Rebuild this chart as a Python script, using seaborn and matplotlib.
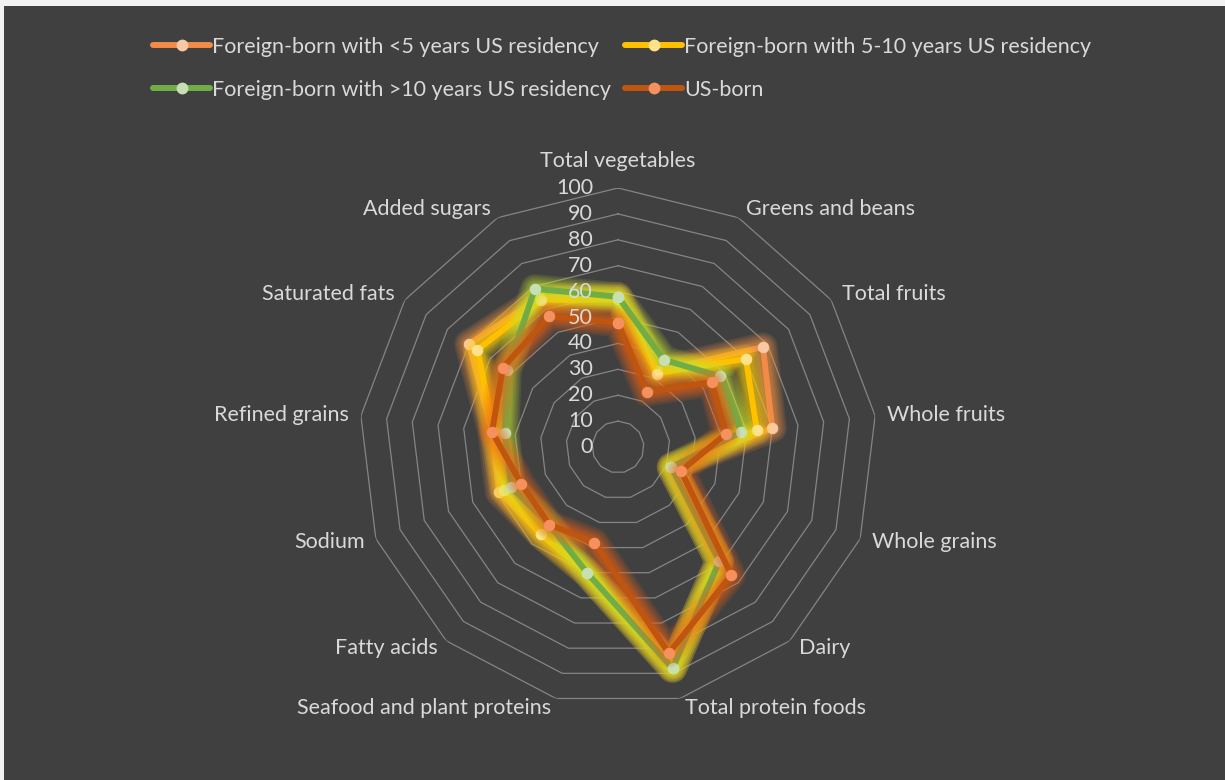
import numpy as np
import pandas as pd
import matplotlib
matplotlib.use("Agg")
import matplotlib.pyplot as plt
from matplotlib.lines import Line2D
from matplotlib.patches import Rectangle
import seaborn as sns

categories = ["Total vegetables", "Greens and beans", "Total fruits", "Whole fruits",
              "Whole grains", "Dairy", "Total protein foods", "Seafood and plant proteins",
              "Fatty acids", "Sodium", "Refined grains", "Saturated fats", "Added sugars"]
series_names = ["Foreign-born with <5 years US residency",
                "Foreign-born with 5-10 years US residency",
                "Foreign-born with >10 years US residency",
                "US-born"]
fb_lt5 = [58, 33, 68, 60, 22, 59, 88, 50, 45, 49, 49, 70, 65]
fb_5_10 = [57, 32, 60, 54, 22, 59, 88, 50, 45, 47, 48, 66, 64]
fb_gt10 = [58, 38, 48, 48, 22, 59, 88, 50, 40, 44, 44, 52, 69]
us_born = [48, 24, 44, 42, 26, 66, 82, 38, 40, 40, 49, 54, 57]
ticks = [0, 10, 20, 30, 40, 50, 60, 70, 80, 90, 100]

line_colors = ["#F28A48", "#FFC000", "#70AD47", "#C0550F"]
marker_colors = ["#F9C9A6", "#FFE28A", "#C6E0B4", "#F4915E"]
glow_colors = ["#FF9A40", "#FFD800", "#C8E830", "#F06418"]

BG = "#404040"
TXT = "#D9D9D9"
GRID = "#858585"
FS = 15.5

sns.set_theme(style="white")
plt.rcParams['font.family'] = ['Lato', 'DejaVu Sans']

n = len(categories)
theta = np.arange(n) * 2 * np.pi / n
theta_closed = np.append(theta, 2 * np.pi)

rows = []
for name, vals in zip(series_names, [fb_lt5, fb_5_10, fb_gt10, us_born]):
    v = list(vals) + [vals[0]]
    for t, val in zip(theta_closed, v):
        rows.append({"series": name, "theta": t, "value": val})
df = pd.DataFrame(rows)

fig = plt.figure(figsize=(12.25, 7.8), dpi=100)
fig.patch.set_facecolor("#F2F2F2")
fig.add_artist(Rectangle((4 / 1225, 0), 1, 1 - 6 / 780, transform=fig.transFigure,
                         facecolor=BG, edgecolor="none", zorder=0))

cx, cy, R = 618, 447, 259
ax = fig.add_axes([(cx - R) / 1225, (780 - cy - R) / 780, 2 * R / 1225, 2 * R / 780],
                  projection="polar")
ax.set_facecolor("none")
ax.set_theta_zero_location("N")
ax.set_theta_direction(-1)

# polygon gridlines
for r in ticks[1:]:
    ax.plot(theta_closed, [r] * (n + 1), color=GRID, lw=0.9, zorder=1)

glow_widths = [21, 18.5, 16, 13.5, 11.5, 9.5, 8]
for i, name in enumerate(series_names):
    sub = df[df["series"] == name]
    for lw_g in glow_widths:
        sns.lineplot(data=sub, x="theta", y="value", sort=False, estimator=None,
                     color=glow_colors[i], lw=lw_g, alpha=0.12, ax=ax, legend=False,
                     solid_joinstyle="round", solid_capstyle="round", zorder=2 + i)
    sns.lineplot(data=sub, x="theta", y="value", sort=False, estimator=None,
                 color=line_colors[i], lw=4.3, marker="o", markersize=7.5,
                 markerfacecolor=marker_colors[i], markeredgecolor=marker_colors[i],
                 ax=ax, legend=False, solid_joinstyle="round", zorder=2 + i)

ax.set_ylim(0, 100)
ax.set_xlabel("")
ax.set_ylabel("")
ax.set_xticks([])
ax.set_yticks([])
ax.grid(False)
ax.spines["polar"].set_visible(False)

for r in ticks:
    ax.annotate(str(r), xy=(0, r), xytext=(-25, 0), textcoords="offset pixels",
                ha="right", va="center", color=TXT, fontsize=FS, annotation_clip=False,
                zorder=20)

for t, lab in zip(theta, categories):
    s, c = np.sin(t), np.cos(t)
    if abs(s) < 0.01:
        ax.annotate(lab, xy=(t, 100), xytext=(0, 27), textcoords="offset pixels",
                    ha="center", va="center", color=TXT, fontsize=FS, annotation_clip=False)
    else:
        ax.annotate(lab, xy=(t, 100), xytext=(np.sign(s) * (3 + 9 * abs(s)), 10 * c),
                    textcoords="offset pixels",
                    ha="left" if s > 0 else "right", va="center", color=TXT, fontsize=FS,
                    annotation_clip=False)

order = [0, 2, 1, 3]
handles = [Line2D([], [], color=line_colors[k], lw=4.3, marker="o", markersize=7.5,
                  markerfacecolor=marker_colors[k], markeredgecolor=marker_colors[k])
           for k in order]
labels = [series_names[k] for k in order]
fig.legend(handles, labels, loc="upper left", bbox_to_anchor=(153 / 1225, 1 - 37 / 780),
           ncol=2, frameon=False, fontsize=FS, labelcolor=TXT, handlelength=2.65,
           handletextpad=0.1, columnspacing=0.65, labelspacing=1.07, borderpad=0,
           borderaxespad=0)

fig.savefig("out.png", dpi=100, facecolor=fig.get_facecolor())
